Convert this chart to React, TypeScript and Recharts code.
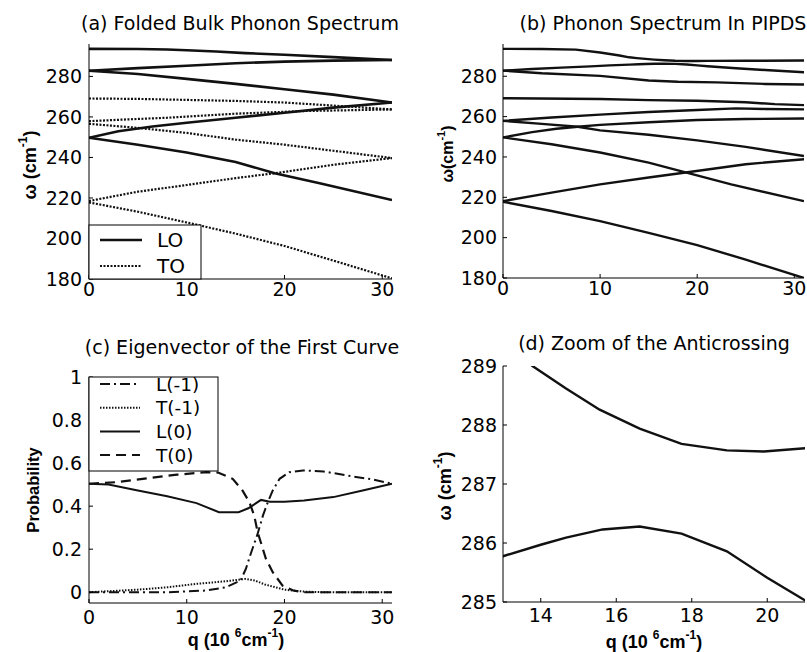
import { Line, LineChart, XAxis, YAxis } from "recharts";

type Pt = [number, number];

// q in 10^6 cm^-1, omega in cm^-1
// (a) folded bulk phonon branches
const aLO1: Pt[] = [[0, 293.6], [5, 293.5], [8, 293.3], [10, 292.9], [13, 292.3], [16, 291.5], [20, 290.7], [25, 289.5], [31, 288.1]];
const aLO2: Pt[] = [[0, 282.8], [5, 284.1], [10, 285.3], [15, 286.5], [20, 287.3], [25, 287.8], [31, 288.1]];
const aLO3: Pt[] = [[0, 282.8], [5, 281.2], [10, 278.8], [15, 276.3], [20, 273.7], [25, 271.0], [31, 267.1]];
const aLO4: Pt[] = [[0, 249.7], [3, 252.9], [6.5, 255.3], [10, 257.1], [15, 259.6], [20, 262.1], [25, 264.6], [31, 267.1]];
const aLO5: Pt[] = [[0, 249.7], [5, 246.3], [10, 242.4], [15, 237.8], [19, 232.2], [23.6, 227.3], [31, 219.0]];
const aTO1: Pt[] = [[0, 269.1], [5, 268.9], [10, 268.4], [15, 267.9], [20, 267.1], [25, 265.6], [31, 263.7]];
const aTO2: Pt[] = [[0, 257.9], [4, 258.8], [8, 259.6], [15, 261.6], [22, 262.9], [31, 263.7]];
const aTO3: Pt[] = [[0, 256.6], [5, 254.6], [10, 252.1], [15, 248.8], [20, 246.3], [25, 243.3], [31, 239.7]];
const aTO4: Pt[] = [[0, 218.5], [5, 223.1], [10, 226.4], [15, 229.8], [19, 232.2], [25, 236.4], [31, 239.7]];
const aTO5: Pt[] = [[0, 217.8], [5, 213.2], [10, 207.9], [15, 202.4], [20, 196.3], [25, 189.1], [31, 180.3]];

// (b) spectrum in the PIPDS, the two anticrossing branches are reused in (d)
const bUpper: Pt[] = [[0, 293.6], [4, 293.5], [7.5, 293.2], [10, 291.8], [12, 290.3], [13, 289.4], [13.78, 289.0], [14.67, 288.62], [15.56, 288.26], [16.62, 287.94], [17.73, 287.68], [18.93, 287.57], [19.91, 287.55], [21.07, 287.61], [25, 287.7], [31, 287.8]];
const bLower: Pt[] = [[0, 282.8], [3, 283.6], [6, 284.3], [9, 284.9], [11, 285.4], [13.02, 285.78], [14, 285.97], [14.67, 286.09], [15.64, 286.23], [16.62, 286.28], [17.73, 286.16], [18.93, 285.86], [20, 285.41], [21.07, 285.0], [24, 284.0], [27, 283.1], [31, 282.0]];
const b3: Pt[] = [[0, 282.8], [4, 281.5], [10, 280.2], [15, 277.9], [18, 277.3], [22, 277.0], [27, 276.2], [31, 275.9]];
const b4: Pt[] = [[0, 269.1], [10, 268.7], [15, 268.2], [20, 267.9], [25, 267.1], [28, 266.2], [31, 265.7]];
const b5: Pt[] = [[0, 257.9], [5, 259.6], [10, 261.0], [15, 262.3], [20, 263.3], [24, 264.1], [27, 263.8], [31, 263.6]];
const b6: Pt[] = [[0, 249.7], [3, 252.3], [5.5, 254.0], [7.7, 255.0], [10, 255.9], [15, 257.2], [20, 258.3], [25, 258.8], [31, 259.1]];
const b7: Pt[] = [[0, 257.9], [4, 256.4], [7.7, 255.0], [10, 253.2], [15, 251.0], [20, 248.2], [25, 245.0], [31, 240.5]];
const b8: Pt[] = [[0, 249.7], [5, 246.3], [10, 242.2], [15, 237.2], [18.9, 232.2], [23.5, 226.4], [31, 218.1]];
const b9: Pt[] = [[0, 218.1], [5, 222.3], [10, 226.4], [15, 229.8], [19, 232.4], [25, 236.4], [31, 238.9]];
const b10: Pt[] = [[0, 217.8], [5, 213.2], [10, 208.2], [15, 202.4], [20, 196.3], [25, 189.1], [31, 180.0]];

// (c) eigenvector weights of the first curve
const cL1: Pt[] = [[0, 0], [8, 0], [12, 0.008], [14, 0.023], [15.5, 0.054], [16.05, 0.109], [16.6, 0.186], [17.2, 0.264], [17.8, 0.357], [18.3, 0.419], [18.8, 0.473], [19.5, 0.527], [20.5, 0.558], [21.9, 0.566], [24, 0.561], [27, 0.538], [29, 0.524], [31, 0.504]];
const cT1: Pt[] = [[0, 0], [5, 0.012], [8, 0.023], [11, 0.039], [14, 0.051], [16, 0.062], [17, 0.054], [18, 0.036], [20, 0.012], [22, 0.003], [24, 0], [31, 0]];
const cL0: Pt[] = [[0, 0.504], [2, 0.5], [5, 0.473], [8, 0.446], [11, 0.414], [13.3, 0.372], [15.3, 0.372], [16.3, 0.39], [17.6, 0.429], [18.5, 0.42], [20, 0.42], [22, 0.426], [25, 0.442], [28, 0.473], [31, 0.504]];
const cT0: Pt[] = [[0, 0.504], [3, 0.512], [6, 0.53], [9, 0.546], [12, 0.558], [13.2, 0.556], [14.7, 0.527], [15.7, 0.473], [16.4, 0.419], [16.9, 0.357], [17.25, 0.28], [18.1, 0.155], [18.8, 0.093], [19.8, 0.031], [20.9, 0.008], [22, 0], [31, 0]];

const qTicks = [0, 10, 20, 30];
const wTicks = [180, 200, 220, 240, 260, 280];
const probTicks = [0, 0.2, 0.4, 0.6, 0.8, 1];
const zoomQTicks = [14, 16, 18, 20];
const zoomWTicks = [285, 286, 287, 288, 289];

const INK = "#111";
const DOTS = "2 1.5";
const DASH = "10 6";
const DASHDOT = "10 4 2 4";

interface Series {
  pts: Pt[];
  width: number;
  dash?: string;
}

interface PanelProps {
  left: number;
  top: number;
  width: number;
  height: number;
  yAxisWidth: number;
  marginTop: number;
  marginRight: number;
  xAxisHeight: number;
  xTickMargin: number;
  yTickMargin: number;
  xDomain: [number, number];
  yDomain: [number, number];
  xTicks: number[];
  yTicks: number[];
  series: Series[];
}

const tickFont = { fill: "#000", fontSize: 19, fontFamily: "DejaVu Sans" };

const rows = (pts: Pt[]) => pts.map(([q, v]) => ({ q, v }));

const Panel = (p: PanelProps) => (
  <div style={{ position: "absolute", left: p.left, top: p.top }}>
    <LineChart
      width={p.width}
      height={p.height}
      margin={{ top: p.marginTop, right: p.marginRight, left: 0, bottom: 0 }}
    >
      <XAxis
        xAxisId="b"
        type="number"
        dataKey="q"
        domain={p.xDomain}
        ticks={p.xTicks}
        interval={0}
        allowDataOverflow
        height={p.xAxisHeight}
        tickSize={-4}
        tickMargin={p.xTickMargin}
        tick={tickFont}
        stroke="#000"
      />
      <XAxis
        xAxisId="t"
        orientation="top"
        type="number"
        dataKey="q"
        domain={p.xDomain}
        ticks={p.xTicks}
        interval={0}
        allowDataOverflow
        height={0}
        tickSize={-4}
        tick={false}
        stroke="#000"
      />
      <YAxis
        yAxisId="l"
        type="number"
        domain={p.yDomain}
        ticks={p.yTicks}
        interval={0}
        allowDataOverflow
        width={p.yAxisWidth}
        tickSize={-4}
        tickMargin={p.yTickMargin}
        tick={tickFont}
        stroke="#000"
      />
      <YAxis
        yAxisId="r"
        orientation="right"
        type="number"
        domain={p.yDomain}
        ticks={p.yTicks}
        interval={0}
        allowDataOverflow
        width={0}
        tickSize={-4}
        tick={false}
        stroke="#000"
      />
      {p.series.map((s, i) => (
        <Line
          key={i}
          xAxisId="b"
          yAxisId="l"
          data={rows(s.pts)}
          dataKey="v"
          type="linear"
          stroke={INK}
          strokeWidth={s.width}
          strokeDasharray={s.dash}
          dot={false}
          activeDot={false}
          isAnimationActive={false}
        />
      ))}
    </LineChart>
  </div>
);

// a unit label: plain parts, raised parts, plain parts ...
const UnitText = ({ parts, size }: { parts: string[]; size: number }) => {
  const lift = Math.round(size * 0.4);
  return (
    <>
      {parts.map((t, i) => {
        const raised = i % 2 === 1;
        const dy = i === 0 ? 0 : raised ? -lift : lift;
        return (
          <tspan key={i} dy={dy} fontSize={raised ? Math.round(size * 0.68) : size}>
            {t}
          </tspan>
        );
      })}
    </>
  );
};

const OmegaLabel = ({ x, y, size, gap }: { x: number; y: number; size: number; gap: boolean }) => (
  <text
    transform={`translate(${x},${y}) rotate(-90)`}
    textAnchor="middle"
    dominantBaseline="central"
    fontFamily="Liberation Sans"
    fontWeight="bold"
    fontSize={size}
  >
    <UnitText parts={[gap ? "ω (cm" : "ω(cm", "-1", ")"]} size={size} />
  </text>
);

const QLabel = ({ x, y }: { x: number; y: number }) => (
  <text
    x={x}
    y={y}
    textAnchor="middle"
    dominantBaseline="central"
    fontFamily="Liberation Sans"
    fontWeight="bold"
    fontSize={18}
  >
    <UnitText parts={["q (10 ", "6", "cm", "-1", ")"]} size={18} />
  </text>
);

const titleProps = {
  textAnchor: "middle" as const,
  dominantBaseline: "central" as const,
  fontFamily: "DejaVu Sans",
  fontSize: 19,
  fill: "#000",
};

const legendA = [
  { name: "LO", dash: undefined as string | undefined, width: 2.6 },
  { name: "TO", dash: DOTS, width: 2.2 },
];

const legendC = [
  { name: "L(-1)", dash: DASHDOT as string | undefined },
  { name: "T(-1)", dash: "1.5 1.5" },
  { name: "L(0)", dash: undefined },
  { name: "T(0)", dash: DASH },
];

const Overlay = () => (
  <svg
    width={807}
    height={652}
    style={{ position: "absolute", left: 0, top: 0, pointerEvents: "none" }}
  >
    <text x={240} y={23} {...titleProps}>(a) Folded Bulk Phonon Spectrum</text>
    <text x={663} y={23} {...titleProps}>(b) Phonon Spectrum In PIPDS</text>
    <text x={242} y={347} {...titleProps}>(c) Eigenvector of the First Curve</text>
    <text x={654} y={343} {...titleProps}>(d) Zoom of the Anticrossing</text>

    <OmegaLabel x={30} y={165} size={18} gap />
    <OmegaLabel x={447} y={154} size={16} gap={false} />
    <OmegaLabel x={445} y={486} size={18} gap />
    <text
      transform="translate(33,490) rotate(-90)"
      textAnchor="middle"
      dominantBaseline="central"
      fontFamily="Liberation Sans"
      fontWeight="bold"
      fontSize={16.5}
    >
      Probability
    </text>
    <QLabel x={236} y={640} />
    <QLabel x={654} y={642} />

    <rect x={89} y={225} width={112} height={54} fill="#fff" stroke="#000" strokeWidth={1} />
    {legendA.map((e, i) => (
      <g key={e.name}>
        <line x1={100} x2={142} y1={240 + i * 26} y2={240 + i * 26} stroke={INK} strokeWidth={e.width} strokeDasharray={e.dash} />
        <text x={157} y={240 + i * 26} dominantBaseline="central" fontFamily="DejaVu Sans" fontSize={20}>
          {e.name}
        </text>
      </g>
    ))}

    <rect x={89} y={377} width={129} height={94} fill="#fff" stroke="#000" strokeWidth={1} />
    {legendC.map((e, i) => (
      <g key={e.name}>
        <line x1={100} x2={140} y1={384 + i * 23.7} y2={384 + i * 23.7} stroke={INK} strokeWidth={2} strokeDasharray={e.dash} />
        <text x={156} y={384 + i * 23.7} dominantBaseline="central" fontFamily="DejaVu Sans" fontSize={18.5}>
          {e.name}
        </text>
      </g>
    ))}
  </svg>
);

const lo = (pts: Pt[]): Series => ({ pts, width: 2.6 });
const to = (pts: Pt[]): Series => ({ pts, width: 2.2, dash: DOTS });
const solid = (pts: Pt[]): Series => ({ pts, width: 2.4 });

export default function App() {
  return (
    <div
      style={{
        position: "absolute",
        left: 0,
        top: 0,
        width: 807,
        height: 652,
        background: "#fff",
        overflow: "hidden",
      }}
    >
      <Panel
        left={0}
        top={0}
        width={400}
        height={310}
        yAxisWidth={89}
        marginTop={44}
        marginRight={8}
        xAxisHeight={31}
        xTickMargin={8}
        yTickMargin={11}
        xDomain={[0, 31]}
        yDomain={[180, 296]}
        xTicks={qTicks}
        yTicks={wTicks}
        series={[
          lo(aLO1), lo(aLO2), lo(aLO3), lo(aLO4), lo(aLO5),
          to(aTO1), to(aTO2), to(aTO3), to(aTO4), to(aTO5),
        ]}
      />
      <Panel
        left={400}
        top={0}
        width={407}
        height={310}
        yAxisWidth={103}
        marginTop={44}
        marginRight={3}
        xAxisHeight={32}
        xTickMargin={8}
        yTickMargin={10}
        xDomain={[0, 31]}
        yDomain={[180, 296]}
        xTicks={qTicks}
        yTicks={wTicks}
        series={[bUpper, bLower, b3, b4, b5, b6, b7, b8, b9, b10].map(solid)}
      />
      <Panel
        left={0}
        top={320}
        width={400}
        height={332}
        yAxisWidth={89}
        marginTop={57}
        marginRight={8}
        xAxisHeight={49}
        xTickMargin={12}
        yTickMargin={11}
        xDomain={[0, 31]}
        yDomain={[-0.05, 1]}
        xTicks={qTicks}
        yTicks={probTicks}
        series={[
          { pts: cL1, width: 2, dash: DASHDOT },
          { pts: cT1, width: 2, dash: "1.5 1.5" },
          { pts: cL0, width: 2 },
          { pts: cT0, width: 2.2, dash: DASH },
        ]}
      />
      <Panel
        left={400}
        top={320}
        width={407}
        height={332}
        yAxisWidth={103}
        marginTop={46}
        marginRight={2}
        xAxisHeight={50}
        xTickMargin={11}
        yTickMargin={10}
        xDomain={[13, 21]}
        yDomain={[285, 289]}
        xTicks={zoomQTicks}
        yTicks={zoomWTicks}
        series={[solid(bUpper), solid(bLower)]}
      />
      <Overlay />
    </div>
  );
}
